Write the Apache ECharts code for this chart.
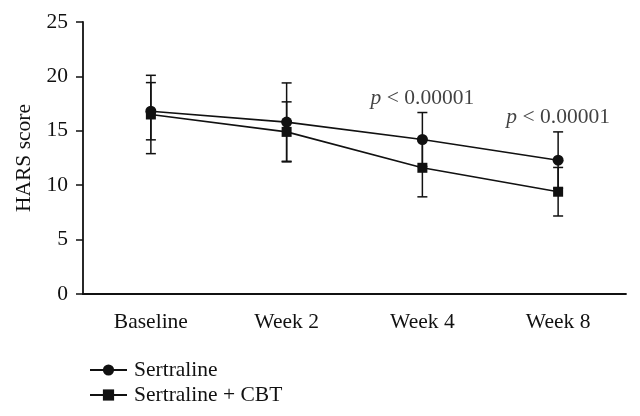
<!DOCTYPE html>
<html>
<head>
<meta charset="utf-8">
<script src="https://cdn.jsdelivr.net/npm/echarts@6/dist/echarts.min.js"></script>
<style>
html,body{margin:0;padding:0;background:#fff;}
#chart{width:640px;height:416px;}
</style>
</head>
<body>
<div id="chart"></div>
<script>
const categories = ['Baseline', 'Week 2', 'Week 4', 'Week 8'];
const sertraline = [16.8, 15.8, 14.2, 12.3];
const sertralineErr = [2.63, 3.6, 2.48, 2.6];
const sertralineCbt = [16.5, 14.9, 11.6, 9.4];
const sertralineCbtErr = [3.6, 2.76, 2.67, 2.23];
const yTicks = [0, 5, 10, 15, 20, 25];
const annotations = [
  { category: 'Week 4', y: 18.0, text: '< 0.00001' },
  { category: 'Week 8', y: 16.2, text: '< 0.00001' }
];

const FONT = '"Liberation Serif", "DejaVu Serif", serif';
const FS = 21.5;
const BLACK = '#111';

function errData(vals, errs) {
  return vals.map((v, i) => [i, v - errs[i], v + errs[i]]);
}

function errorSeries(name, vals, errs) {
  return {
    type: 'custom',
    name: name + ' err',
    z: 1,
    silent: true,
    data: errData(vals, errs),
    renderItem: function (params, api) {
      const x = api.value(0);
      const lo = api.coord([x, api.value(1)]);
      const hi = api.coord([x, api.value(2)]);
      const hw = 5;
      const style = { stroke: BLACK, lineWidth: 1.5, fill: null };
      return {
        type: 'group',
        children: [
          { type: 'line', shape: { x1: lo[0], y1: lo[1], x2: hi[0], y2: hi[1] }, style: style },
          { type: 'line', shape: { x1: lo[0] - hw, y1: lo[1], x2: lo[0] + hw, y2: lo[1] }, style: style },
          { type: 'line', shape: { x1: hi[0] - hw, y1: hi[1], x2: hi[0] + hw, y2: hi[1] }, style: style }
        ]
      };
    }
  };
}

const chart = echarts.init(document.getElementById('chart'));
chart.setOption({
  animation: false,
  backgroundColor: '#fff',
  textStyle: { fontFamily: FONT },
  grid: { left: 83, right: 14, top: 22, bottom: 122, containLabel: false },
  legend: {
    left: 84,
    top: 354,
    orient: 'vertical',
    itemWidth: 37,
    itemHeight: 14,
    itemGap: 3,
    textStyle: { fontFamily: FONT, fontSize: FS, color: BLACK, padding: [0, 0, 0, 2] },
    data: ['Sertraline', 'Sertraline + CBT']
  },
  xAxis: {
    type: 'category',
    data: categories,
    boundaryGap: true,
    axisLine: { lineStyle: { color: BLACK, width: 1.8 } },
    axisTick: { alignWithLabel: true, length: 6, lineStyle: { color: BLACK, width: 1.5 } },
    axisLabel: { fontFamily: FONT, fontSize: FS, color: BLACK, margin: 17 },
    splitLine: { show: false }
  },
  yAxis: {
    type: 'value',
    min: 0,
    max: 25,
    interval: 5,
    name: 'HARS score',
    nameLocation: 'middle',
    nameGap: 48,
    nameTextStyle: { fontFamily: FONT, fontSize: FS, color: BLACK },
    axisLine: { show: true, lineStyle: { color: BLACK, width: 1.8 } },
    axisTick: { show: true, length: 7, lineStyle: { color: BLACK, width: 1.5 } },
    axisLabel: {
      fontFamily: FONT, fontSize: FS, color: BLACK, margin: 15,
      formatter: v => yTicks.includes(v) ? String(v) : ''
    },
    splitLine: { show: false }
  },
  series: [
    errorSeries('Sertraline', sertraline, sertralineErr),
    errorSeries('Sertraline + CBT', sertralineCbt, sertralineCbtErr),
    {
      name: 'Sertraline',
      type: 'line',
      data: sertraline,
      symbol: 'circle',
      symbolSize: 11,
      z: 3,
      lineStyle: { color: BLACK, width: 1.6 },
      itemStyle: { color: BLACK }
    },
    {
      name: 'Sertraline + CBT',
      type: 'line',
      data: sertralineCbt,
      symbol: 'rect',
      symbolSize: 10,
      z: 3,
      lineStyle: { color: BLACK, width: 1.6 },
      itemStyle: { color: BLACK }
    },
    {
      name: 'annotations',
      type: 'scatter',
      symbolSize: 0,
      silent: true,
      data: annotations.map(a => [a.category, a.y]),
      label: {
        show: true,
        position: 'inside',
        formatter: p => '{i|p} ' + annotations[p.dataIndex].text,
        fontFamily: FONT,
        fontSize: FS,
        color: BLACK,
        rich: {
          i: { fontFamily: FONT, fontSize: FS, fontStyle: 'italic', color: BLACK }
        }
      }
    }
  ]
});
</script>
</body>
</html>
